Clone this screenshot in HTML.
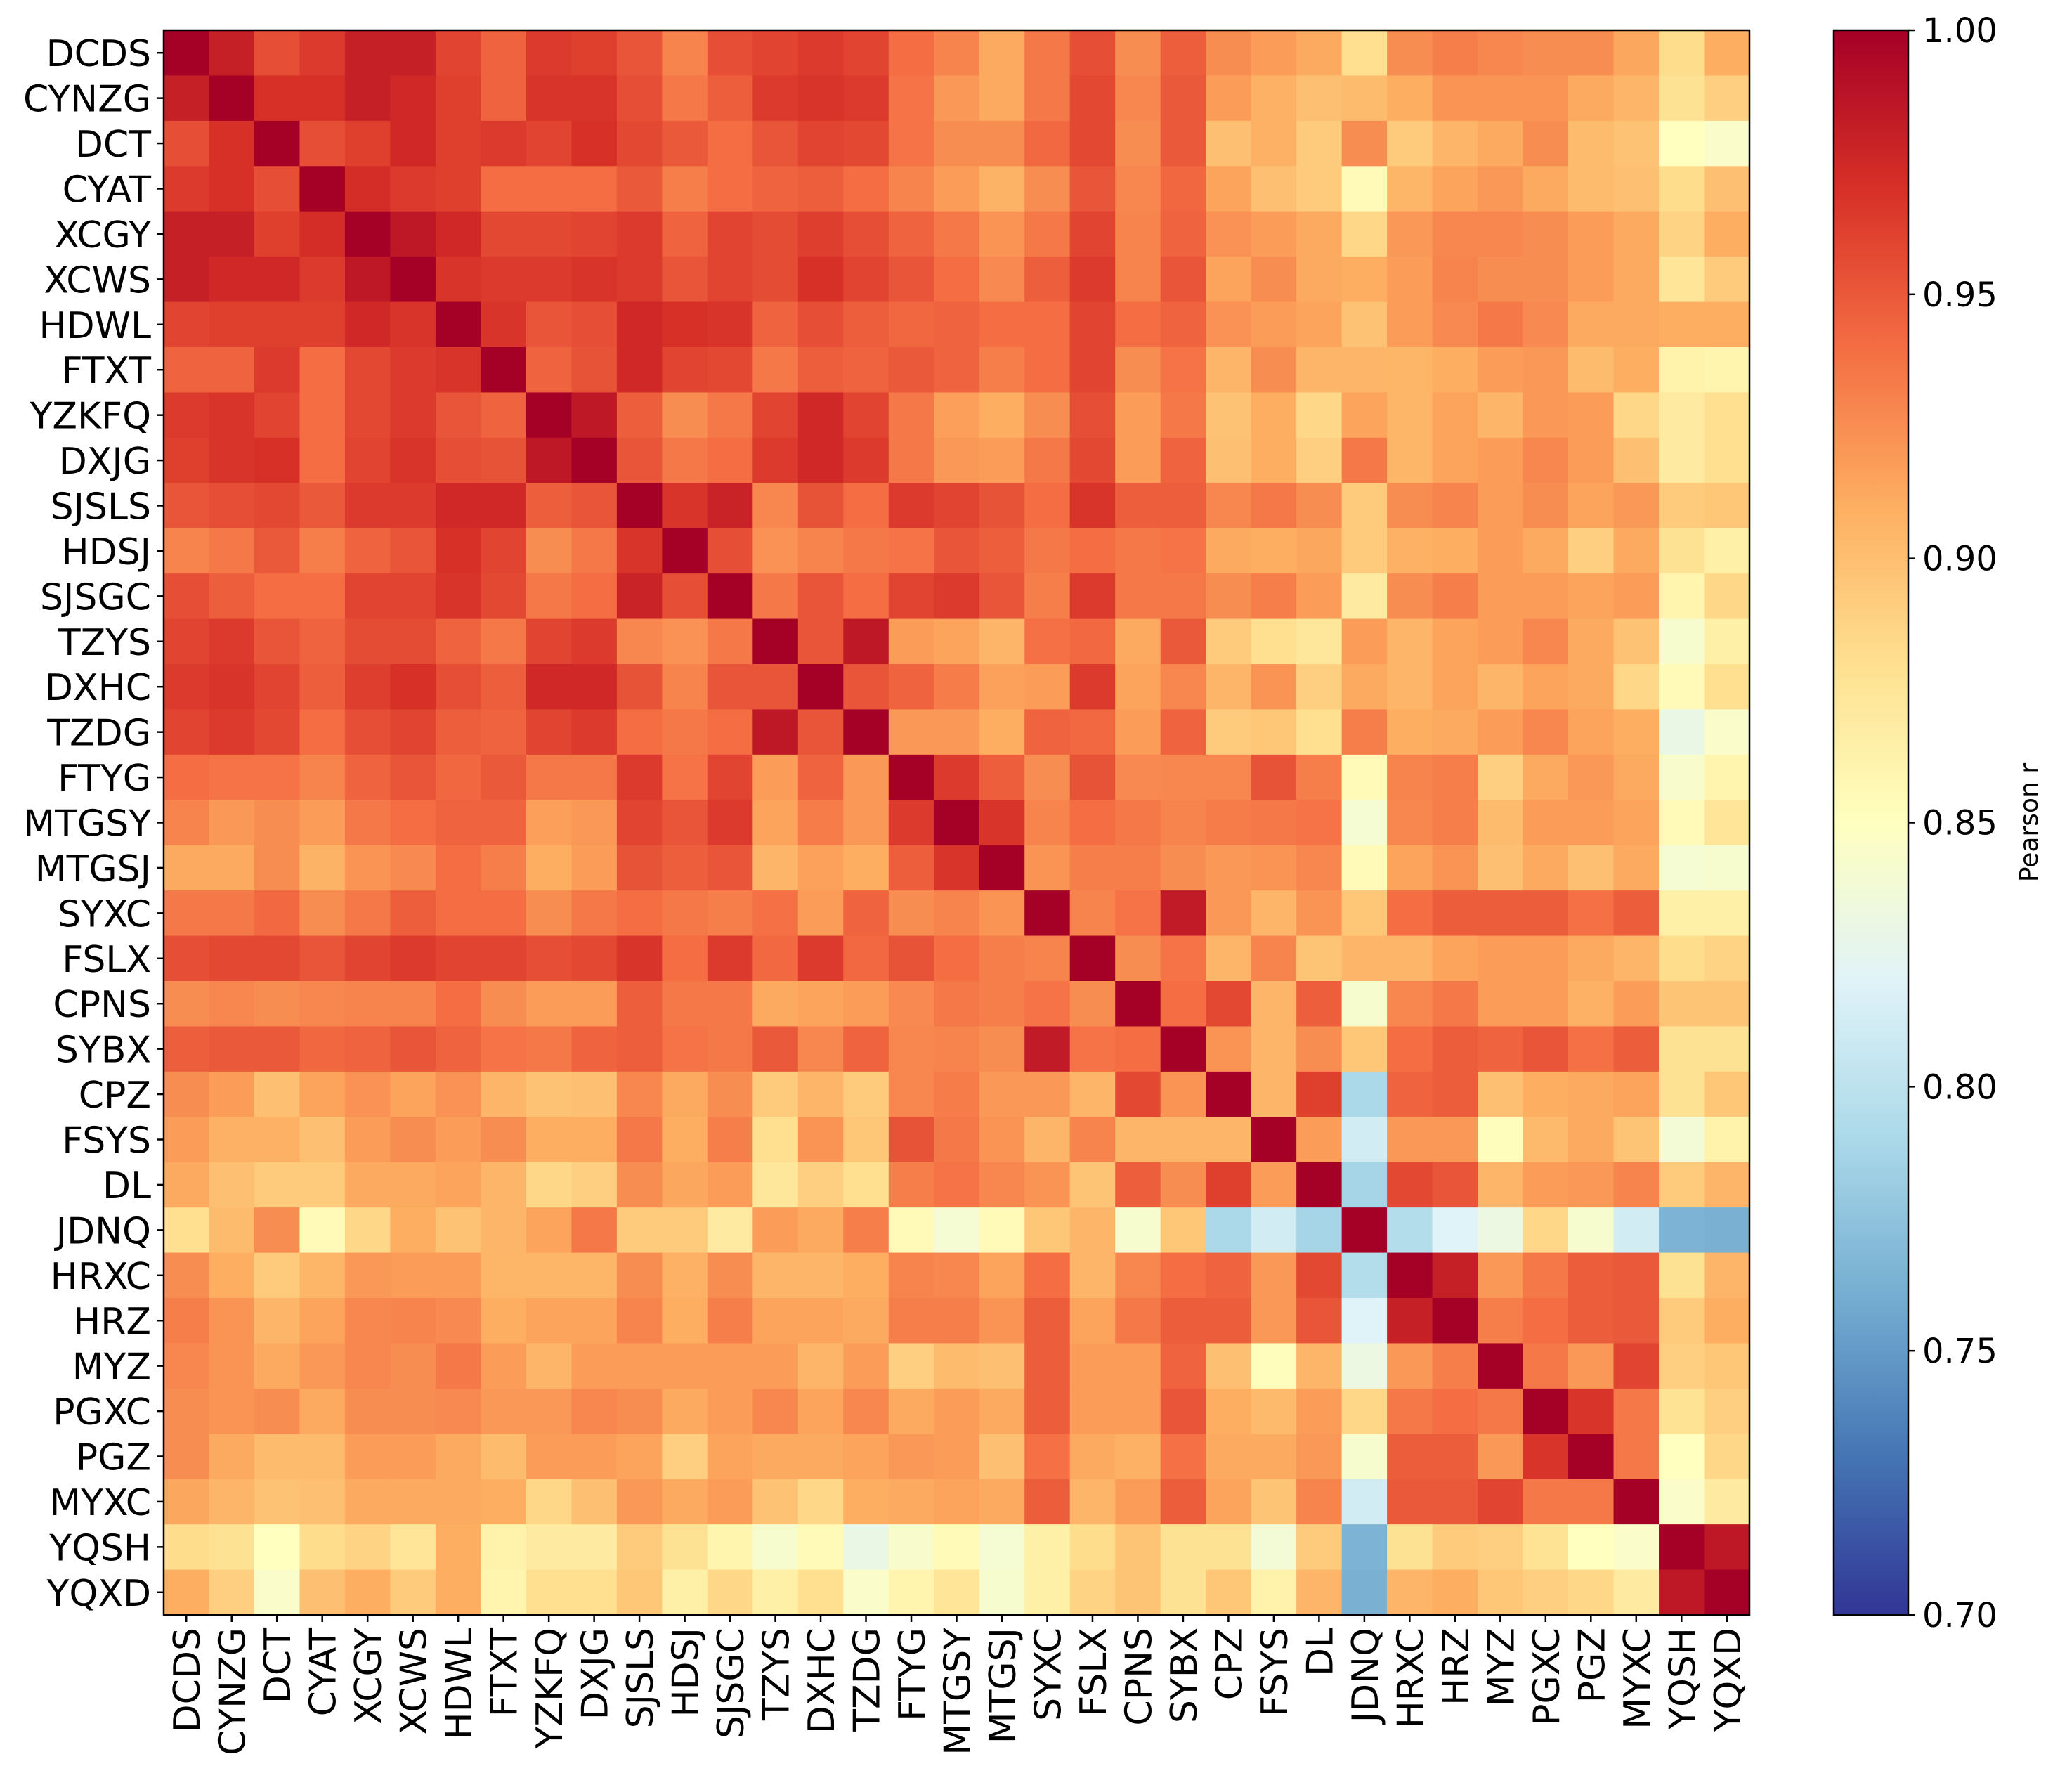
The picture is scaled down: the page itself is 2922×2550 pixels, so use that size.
<!DOCTYPE html>
<html><head><meta charset="utf-8"><style>
html,body{margin:0;padding:0;background:#fff;}
svg{display:block;font-family:"DejaVu Sans","Liberation Sans",sans-serif;}
</style></head><body>
<svg id="chart" width="2922" height="2550" viewBox="0 0 2922 2550" xmlns="http://www.w3.org/2000/svg">
<defs><linearGradient id="cbgrad" x1="0" y1="1" x2="0" y2="0"></linearGradient></defs>
<g id="cells"></g>
<g id="axes"></g>
<g id="cbar"></g>
</svg>
<script>
const categories = ["DCDS","CYNZG","DCT","CYAT","XCGY","XCWS","HDWL","FTXT","YZKFQ","DXJG","SJSLS","HDSJ","SJSGC","TZYS","DXHC","TZDG","FTYG","MTGSY","MTGSJ","SYXC","FSLX","CPNS","SYBX","CPZ","FSYS","DL","JDNQ","HRXC","HRZ","MYZ","PGXC","PGZ","MYXC","YQSH","YQXD"];
// lower triangle values: row i, columns 0..i-1
const lowerRows = [
[],
[.98],
[.955,.97],
[.965,.97,.955],
[.98,.98,.962,.972],
[.98,.975,.975,.965,.985],
[.96,.962,.962,.962,.975,.968],
[.945,.945,.965,.94,.958,.965,.968],
[.965,.968,.96,.94,.958,.965,.952,.945],
[.962,.968,.97,.94,.96,.968,.955,.953,.985],
[.952,.955,.958,.95,.965,.965,.975,.975,.947,.952],
[.93,.935,.95,.932,.945,.952,.97,.96,.925,.935,.968],
[.955,.947,.94,.94,.96,.96,.968,.958,.935,.94,.978,.955],
[.96,.965,.952,.945,.956,.956,.945,.935,.96,.965,.928,.923,.935],
[.965,.968,.96,.947,.963,.97,.955,.947,.975,.975,.953,.93,.952,.952],
[.96,.965,.958,.94,.955,.96,.947,.945,.96,.965,.94,.935,.94,.985,.952],
[.94,.937,.937,.93,.945,.952,.943,.95,.935,.935,.965,.937,.96,.918,.945,.92],
[.93,.92,.925,.918,.935,.94,.945,.945,.917,.92,.96,.952,.965,.915,.933,.92,.965],
[.912,.912,.925,.907,.922,.927,.94,.932,.91,.918,.953,.947,.952,.905,.916,.91,.947,.968],
[.935,.935,.942,.925,.935,.947,.94,.94,.925,.935,.94,.935,.932,.938,.918,.945,.925,.93,.922],
[.955,.958,.958,.952,.96,.965,.96,.96,.955,.958,.968,.94,.965,.942,.965,.942,.953,.94,.932,.93],
[.925,.928,.925,.928,.93,.93,.94,.925,.918,.918,.947,.935,.935,.912,.915,.918,.927,.935,.932,.937,.925],
[.947,.95,.95,.943,.945,.952,.945,.937,.935,.945,.947,.937,.935,.95,.928,.945,.928,.93,.925,.983,.937,.94],
[.925,.918,.9,.915,.923,.915,.923,.905,.898,.9,.928,.912,.925,.893,.905,.893,.928,.933,.92,.92,.905,.958,.922],
[.918,.908,.908,.9,.918,.925,.918,.925,.91,.91,.935,.91,.932,.88,.922,.895,.953,.935,.922,.905,.93,.905,.905,.905],
[.912,.9,.893,.893,.912,.912,.915,.905,.885,.89,.925,.913,.918,.873,.89,.88,.932,.937,.928,.922,.897,.947,.925,.962,.918],
[.88,.902,.925,.855,.885,.91,.898,.905,.915,.935,.893,.893,.87,.918,.912,.932,.855,.84,.855,.895,.905,.842,.895,.79,.812,.787],
[.925,.91,.893,.906,.92,.918,.918,.906,.906,.906,.925,.908,.925,.905,.905,.91,.93,.928,.915,.94,.905,.928,.94,.945,.92,.958,.795],
[.932,.922,.905,.915,.928,.93,.927,.91,.915,.915,.93,.91,.932,.915,.915,.912,.932,.932,.922,.948,.915,.935,.948,.948,.92,.952,.82,.98],
[.928,.922,.912,.92,.928,.925,.935,.918,.905,.918,.918,.918,.918,.918,.905,.918,.89,.902,.9,.948,.918,.918,.945,.9,.852,.905,.832,.92,.932],
[.925,.922,.925,.912,.925,.925,.927,.92,.92,.928,.925,.912,.918,.928,.915,.928,.912,.918,.912,.948,.918,.918,.952,.91,.903,.918,.885,.935,.94,.935],
[.925,.912,.902,.902,.918,.918,.912,.902,.918,.918,.915,.89,.915,.912,.912,.915,.92,.918,.9,.938,.912,.908,.938,.912,.912,.92,.842,.948,.948,.92,.968],
[.913,.905,.898,.9,.912,.912,.912,.91,.885,.9,.92,.912,.918,.898,.885,.91,.912,.915,.912,.948,.905,.918,.948,.915,.897,.93,.812,.95,.95,.96,.935,.935],
[.882,.878,.85,.882,.888,.875,.91,.862,.87,.87,.893,.878,.86,.842,.855,.83,.843,.855,.84,.865,.882,.897,.878,.878,.838,.893,.765,.878,.893,.89,.877,.85,.845],
[.91,.89,.845,.9,.91,.893,.91,.86,.88,.88,.895,.865,.885,.865,.88,.845,.86,.875,.842,.865,.888,.897,.878,.895,.863,.905,.763,.905,.91,.895,.89,.885,.87,.985]
];
const cbTicks = [0.70,0.75,0.80,0.85,0.90,0.95,1.00];
const vmin = 0.70, vmax = 1.00;

const NS = "http://www.w3.org/2000/svg";
const X0 = 233, Y0 = 43, W = 2257, H = 2255;
const n = categories.length;
const cw = W / n, ch = H / n;
const xPos = j => X0 + j * cw;
const yPos = i => Y0 + i * ch;
const stops = ["#313695","#4575b4","#74add1","#abd9e9","#e0f3f8","#ffffbf","#fee090","#fdae61","#f46d43","#d73027","#a50026"];
function hex(h){return [parseInt(h.substr(1,2),16),parseInt(h.substr(3,2),16),parseInt(h.substr(5,2),16)];}
function color(v){
  let t = (v - vmin) / (vmax - vmin); t = Math.max(0, Math.min(1, t));
  const p = t * 10, k = Math.min(9, Math.floor(p)), f = p - k;
  const a = hex(stops[k]), b = hex(stops[k+1]);
  return "rgb(" + a.map((c,i)=>Math.round(c + (b[i]-c)*f)).join(",") + ")";
}
function val(i,j){ if(i===j) return 1; return i>j ? lowerRows[i][j] : lowerRows[j][i]; }
function mk(tag, attrs, parent){const e=document.createElementNS(NS,tag);for(const k in attrs)e.setAttribute(k,attrs[k]);parent.appendChild(e);return e;}

const cells = document.getElementById("cells");
for(let i=0;i<n;i++){for(let j=0;j<n;j++){
  const r = mk("rect",{x:xPos(j).toFixed(2),y:yPos(i).toFixed(2),width:(cw+0.6).toFixed(2),height:(ch+0.6).toFixed(2),fill:color(val(i,j))},cells);
  
  
}}
const axes = document.getElementById("axes");
const frame = mk("rect",{x:X0,y:Y0,width:W,height:H,fill:"none",stroke:"#000","stroke-width":2.5},axes);


for(let i=0;i<n;i++){
  const cy = yPos(i)+ch/2;
  mk("line",{x1:X0-10,y1:cy,x2:X0,y2:cy,stroke:"#000","stroke-width":2.5},axes);
  const t = mk("text",{x:X0-18,y:cy+19,"text-anchor":"end","font-size":52,fill:"#000"},axes);
  t.textContent = categories[i];
  
  
  const cx = xPos(i)+cw/2;
  mk("line",{x1:cx,y1:Y0+H,x2:cx,y2:Y0+H+10,stroke:"#000","stroke-width":2.5},axes);
  const tx = mk("text",{x:0,y:0,"text-anchor":"end","font-size":52,fill:"#000",transform:"translate("+(cx+19)+","+(Y0+H+18)+") rotate(-90)"},axes);
  tx.textContent = categories[i];
  
  
}
// colorbar
const CX = 2610, CW = 106, CY0 = Y0, CH = H;
const grad = document.getElementById("cbgrad");
stops.forEach((s,k)=>mk("stop",{offset:(k*10)+"%","stop-color":s},grad));
const cbar = document.getElementById("cbar");
const cb = mk("rect",{x:CX,y:CY0,width:CW,height:CH,fill:"url(#cbgrad)",stroke:"#000","stroke-width":2.5},cbar);


const cbY = v => CY0 + CH - (v - vmin)/(vmax - vmin)*CH;
cbTicks.forEach(v=>{
  const y = cbY(v);
  mk("line",{x1:CX+CW,y1:y,x2:CX+CW+10,y2:y,stroke:"#000","stroke-width":2.5},cbar);
  const t = mk("text",{x:CX+CW+20,y:y+17,"font-size":48,fill:"#000"},cbar);
  t.textContent = v.toFixed(2);
  
  
});
const lab = mk("text",{x:0,y:0,"text-anchor":"middle","font-size":36,fill:"#000",transform:"translate(2900,"+(CY0+CH/2)+") rotate(-90)"},cbar);
lab.textContent = "Pearson r";


</script>
</body></html>
